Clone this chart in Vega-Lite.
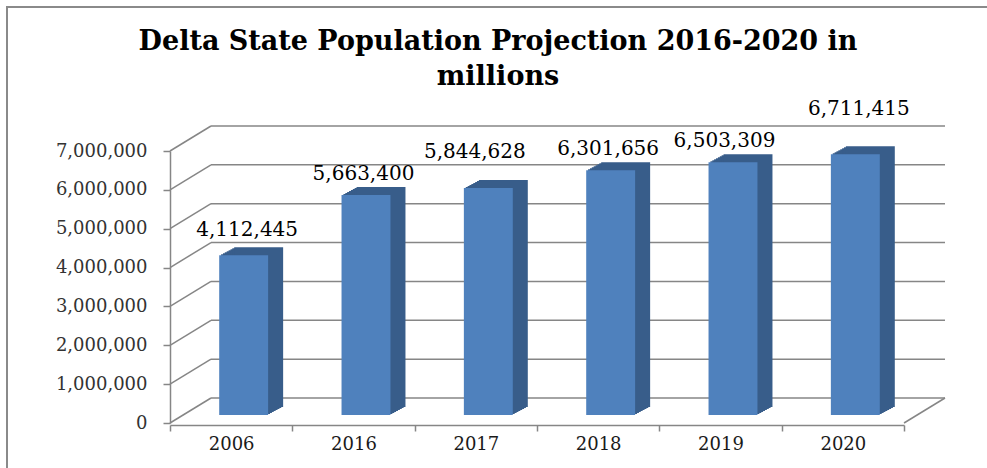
{
  "$schema": "https://vega.github.io/schema/vega-lite/v6.json",
  "width": 982,
  "height": 463,
  "autosize": "none",
  "padding": {"left": 7, "top": 7, "right": 0, "bottom": 0},
  "background": "white",
  "config": {
    "view": {"stroke": "#8a8a8a", "strokeWidth": 2},
    "axisX": {"domainColor": "#868686", "domainWidth": 1.5, "tickColor": "#868686", "tickWidth": 1.5, "tickSize": 6, "tickBand": "extent", "labelFont": "DejaVu Serif", "labelFontSize": 18, "labelColor": "#1a1a1a", "labelPadding": 4, "labelAngle": 0, "grid": false},
    "axisY": {"domainColor": "#868686", "domainWidth": 1.5, "tickColor": "#868686", "tickWidth": 1.5, "tickSize": 7, "labelFont": "DejaVu Serif", "labelFontSize": 18, "labelColor": "#333333", "labelPadding": 16, "grid": false}
  },
  "title": {
    "text": ["Delta State Population Projection 2016-2020 in", "millions"],
    "font": "DejaVu Serif",
    "fontSize": 27,
    "fontWeight": "bold",
    "color": "#000000",
    "anchor": "middle",
    "baseline": "alphabetic",
    "lineHeight": 35,
    "offset": 0,
    "dx": 0,
    "dy": 105
  },
  "datasets": {
    "pop": [
      {"year": "2006", "population": 4112445},
      {"year": "2016", "population": 5663400},
      {"year": "2017", "population": 5844628},
      {"year": "2018", "population": 6301656},
      {"year": "2019", "population": 6503309},
      {"year": "2020", "population": 6711415}
    ],
    "ticks": [
      {"v": 0}, {"v": 1000000}, {"v": 2000000}, {"v": 3000000},
      {"v": 4000000}, {"v": 5000000}, {"v": 6000000}, {"v": 7000000}
    ]
  },
  "layer": [
    {
      "data": {"name": "ticks"},
      "mark": {"type": "rule", "color": "#868686", "strokeWidth": 1.5, "xOffset": 41, "x2Offset": 41, "yOffset": -25},
      "encoding": {
        "x": {"datum": "2006", "type": "nominal", "bandPosition": 0, "title": null,
              "scale": {"domain": ["2006", "2016", "2017", "2018", "2019", "2020"], "range": [163, 897], "paddingInner": 0, "paddingOuter": 0},
              "axis": {"offset": -45, "title": null}},
        "x2": {"datum": "2020", "bandPosition": 1},
        "y": {"field": "v", "type": "quantitative", "title": null,
              "scale": {"domain": [0, 7000000], "range": [416, 144], "nice": false, "zero": true},
              "axis": {"offset": -163, "values": [0, 1000000, 2000000, 3000000, 4000000, 5000000, 6000000, 7000000], "format": ",", "labelExpr": "format(datum.value, ',')", "title": null}}
      }
    },
    {
      "data": {"name": "ticks"},
      "mark": {"type": "rule", "color": "#868686", "strokeWidth": 1.5, "x2Offset": 41, "y2Offset": -25},
      "encoding": {
        "x": {"datum": "2006", "type": "nominal", "bandPosition": 0, "title": null},
        "x2": {"datum": "2006", "bandPosition": 0},
        "y": {"field": "v", "type": "quantitative", "title": null},
        "y2": {"field": "v"}
      }
    },
    {
      "data": {"name": "ticks"},
      "transform": [{"filter": "datum.v == 0"}],
      "mark": {"type": "rule", "color": "#868686", "strokeWidth": 1.5, "x2Offset": 41, "y2Offset": -25},
      "encoding": {
        "x": {"datum": "2020", "type": "nominal", "bandPosition": 1, "title": null},
        "x2": {"datum": "2020", "bandPosition": 1},
        "y": {"field": "v", "type": "quantitative", "title": null},
        "y2": {"field": "v"}
      }
    },
    {"data": {"name": "pop"}, "mark": {"type": "bar", "color": "#385d8a", "width": {"band": 0.4}, "xOffset": 14.4, "yOffset": -9, "y2Offset": -9}, "encoding": {"x": {"field": "year", "type": "nominal", "title": null}, "y": {"field": "population", "type": "quantitative", "title": null}}},
    {"data": {"name": "pop"}, "mark": {"type": "bar", "color": "#385d8a", "width": {"band": 0.4}, "xOffset": 16.3, "yOffset": -10, "y2Offset": -10}, "encoding": {"x": {"field": "year", "type": "nominal", "title": null}, "y": {"field": "population", "type": "quantitative", "title": null}}},
    {"data": {"name": "pop"}, "mark": {"type": "bar", "color": "#385d8a", "width": {"band": 0.4}, "xOffset": 18.1, "yOffset": -11, "y2Offset": -11}, "encoding": {"x": {"field": "year", "type": "nominal", "title": null}, "y": {"field": "population", "type": "quantitative", "title": null}}},
    {"data": {"name": "pop"}, "mark": {"type": "bar", "color": "#385d8a", "width": {"band": 0.4}, "xOffset": 20, "yOffset": -12, "y2Offset": -12}, "encoding": {"x": {"field": "year", "type": "nominal", "title": null}, "y": {"field": "population", "type": "quantitative", "title": null}}},
    {"data": {"name": "pop"}, "mark": {"type": "bar", "color": "#385d8a", "width": {"band": 0.4}, "xOffset": 21.9, "yOffset": -13, "y2Offset": -13}, "encoding": {"x": {"field": "year", "type": "nominal", "title": null}, "y": {"field": "population", "type": "quantitative", "title": null}}},
    {"data": {"name": "pop"}, "mark": {"type": "bar", "color": "#385d8a", "width": {"band": 0.4}, "xOffset": 23.8, "yOffset": -14, "y2Offset": -14}, "encoding": {"x": {"field": "year", "type": "nominal", "title": null}, "y": {"field": "population", "type": "quantitative", "title": null}}},
    {"data": {"name": "pop"}, "mark": {"type": "bar", "color": "#385d8a", "width": {"band": 0.4}, "xOffset": 25.6, "yOffset": -15, "y2Offset": -15}, "encoding": {"x": {"field": "year", "type": "nominal", "title": null}, "y": {"field": "population", "type": "quantitative", "title": null}}},
    {"data": {"name": "pop"}, "mark": {"type": "bar", "color": "#385d8a", "width": {"band": 0.4}, "xOffset": 27.5, "yOffset": -16, "y2Offset": -16}, "encoding": {"x": {"field": "year", "type": "nominal", "title": null}, "y": {"field": "population", "type": "quantitative", "title": null}}},
    {"data": {"name": "pop"}, "mark": {"type": "bar", "color": "#4f81bd", "width": {"band": 0.4}, "xOffset": 12.5, "yOffset": -8, "y2Offset": -8}, "encoding": {"x": {"field": "year", "type": "nominal", "title": null}, "y": {"field": "population", "type": "quantitative", "title": null}}},
    {
      "data": {"name": "pop"},
      "mark": {
        "type": "text", "font": "DejaVu Serif", "fontSize": 20, "color": "#000000", "align": "center", "baseline": "alphabetic",
        "xOffset": {"expr": "datum.year == '2006' ? 16 : datum.year == '2016' ? 10 : datum.year == '2017' ? -1 : datum.year == '2018' ? 10 : datum.year == '2019' ? 4 : 16"},
        "yOffset": {"expr": "datum.year == '2006' ? -27 : datum.year == '2016' ? -23 : datum.year == '2017' ? -38 : datum.year == '2018' ? -23 : datum.year == '2019' ? -23 : -47"}
      },
      "encoding": {
        "x": {"field": "year", "type": "nominal", "title": null},
        "y": {"field": "population", "type": "quantitative", "title": null},
        "text": {"field": "population", "type": "quantitative", "format": ","}
      }
    }
  ]
}
